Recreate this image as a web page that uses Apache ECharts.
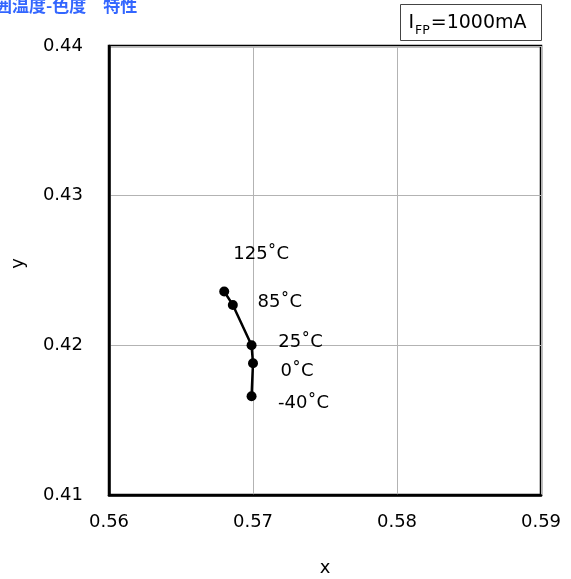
<!DOCTYPE html>
<html>
<head>
<meta charset="utf-8">
<script src="https://cdn.jsdelivr.net/npm/echarts@6/dist/echarts.min.js"></script>
<style>html,body{margin:0;padding:0;background:#fff;}#c{width:571px;height:579px;}</style>
</head>
<body>
<div id="c"></div>
<script>
// ---- data ----
const temps = ['125˚C', '85˚C', '25˚C', '0˚C', '-40˚C'];
const xValues = [0.5680, 0.5686, 0.5699, 0.5700, 0.5699];
const yValues = [0.4236, 0.4227, 0.4200, 0.4188, 0.4166];
const xTicks = [0.56, 0.57, 0.58, 0.59];
const yTicks = [0.41, 0.42, 0.43, 0.44];
const titleText = '周囲温度-色度　特性';
const conditionText = ['I', 'FP', '=1000mA'];

// ---- style (label offsets relative to points) ----
const labelOffsets = [[37, -37], [47, -3], [49, -3], [44, 8], [52, 7]];
const FONT = 'Verdana, "DejaVu Sans", sans-serif';

const pts = xValues.map((x, i) => ({
  value: [x, yValues[i]],
  label: { show: true, position: 'inside', offset: labelOffsets[i], formatter: temps[i] }
}));

const chart = echarts.init(document.getElementById('c'), null, { renderer: 'canvas' });
chart.setOption({
  backgroundColor: '#fff',
  animation: false,
  title: {
    text: titleText,
    left: -22, top: -3,
    padding: 0,
    textStyle: { color: '#3366FF', fontSize: 17, fontWeight: 'bold', fontFamily: '"Noto Sans CJK JP", sans-serif' }
  },
  graphic: [{
    type: 'group', right: 29, top: 4,
    children: [
      { type: 'rect', shape: { x: 0, y: 0, width: 141, height: 36 },
        style: { fill: '#fff', stroke: '#444', lineWidth: 1 } },
      { type: 'text', x: 67, y: 19,
        style: {
          text: '{a|' + conditionText[0] + '}{s|' + conditionText[1] + '}{a|' + conditionText[2] + '}',
          align: 'center', verticalAlign: 'middle',
          rich: {
            a: { fontSize: 19, fontFamily: FONT, fill: '#000', verticalAlign: 'bottom' },
            s: { fontSize: 12.5, fontFamily: FONT, fill: '#000', verticalAlign: 'bottom', padding: [0, 1, -4, 1] }
          }
        } }
    ]
  }],
  grid: {
    left: 109, right: 30, top: 46, bottom: 84,
    outerBoundsMode: 'none', containLabel: false,
    show: true, borderColor: '#000', borderWidth: 2.5, backgroundColor: 'transparent'
  },
  xAxis: {
    type: 'value', min: xTicks[0], max: xTicks[xTicks.length - 1], interval: 0.01,
    name: 'x', nameLocation: 'middle', nameGap: 64,
    nameTextStyle: { fontSize: 18, fontFamily: FONT, color: '#000' },
    axisLine: { show: true, lineStyle: { color: '#000', width: 2.5 } },
    axisTick: { show: false },
    axisLabel: { fontSize: 18, fontFamily: FONT, color: '#000', margin: 18,
      formatter: v => xTicks.find(t => Math.abs(t - v) < 1e-9)?.toFixed(2) ?? '' },
    splitLine: { show: true, lineStyle: { color: '#b3b3b3', width: 1 } }
  },
  yAxis: {
    type: 'value', min: yTicks[0], max: yTicks[yTicks.length - 1], interval: 0.01,
    name: 'y', nameLocation: 'middle', nameGap: 82, nameRotate: 90,
    nameTextStyle: { fontSize: 18, fontFamily: FONT, color: '#000', padding: [0, 0, 0, 14] },
    axisLine: { show: true, lineStyle: { color: '#000', width: 2.5 } },
    axisTick: { show: false },
    axisLabel: { fontSize: 18, fontFamily: FONT, color: '#000', margin: 26,
      formatter: v => yTicks.find(t => Math.abs(t - v) < 1e-9)?.toFixed(2) ?? '' },
    splitLine: { show: true, lineStyle: { color: '#b3b3b3', width: 1 } }
  },
  series: [{
    type: 'line',
    data: pts,
    symbol: 'circle', symbolSize: 10,
    itemStyle: { color: '#000' },
    lineStyle: { color: '#000', width: 2.5 },
    label: { fontSize: 18, fontFamily: FONT, color: '#000' }
  }]
});
</script>
</body>
</html>
